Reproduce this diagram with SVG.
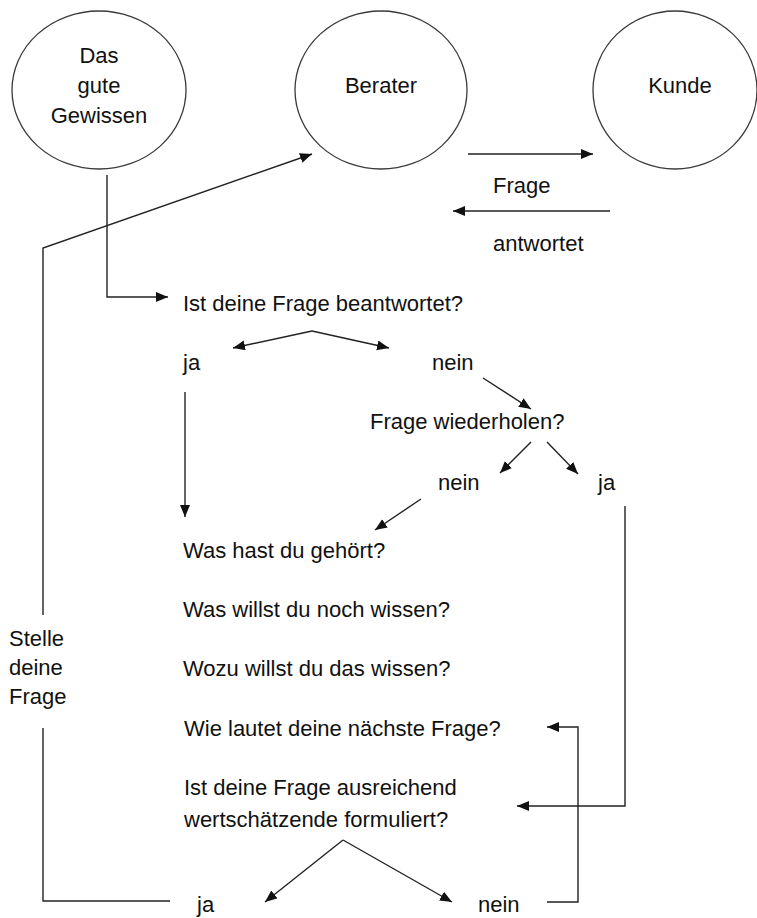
<svg xmlns="http://www.w3.org/2000/svg" width="757" height="918" viewBox="0 0 757 918">
<style>
  .bg{fill:#ffffff}
  .node ellipse{fill:#ffffff;stroke:#3a3a3a;stroke-width:1.3}
  text{font-family:"Liberation Sans",Arial,sans-serif;font-size:22px;fill:#111111}
  .c{text-anchor:middle}
  .conn path{fill:none;stroke:#222222;stroke-width:1.4}
</style>
<defs>
  <marker id="ah" markerUnits="userSpaceOnUse" markerWidth="14" markerHeight="12" refX="12" refY="5" orient="auto">
    <path d="M0,0 L12,5 L0,10 Z" fill="#111111"/>
  </marker>
</defs>
<rect class="bg" x="0" y="0" width="757" height="918"/>

<g id="gewissen" class="node">
  <ellipse cx="99" cy="90" rx="87" ry="79"/>
  <text class="c" x="99" y="63">Das</text>
  <text class="c" x="99" y="93">gute</text>
  <text class="c" x="99" y="123">Gewissen</text>
</g>
<g id="berater" class="node">
  <ellipse cx="381" cy="90" rx="86" ry="79"/>
  <text class="c" x="381" y="93">Berater</text>
</g>
<g id="kunde" class="node">
  <ellipse cx="675" cy="90" rx="82" ry="79"/>
  <text class="c" x="680" y="93">Kunde</text>
</g>

<g id="label-frage"><text x="493" y="193">Frage</text></g>
<g id="label-antwortet"><text x="493" y="251">antwortet</text></g>
<g id="q-beantwortet"><text x="183" y="311">Ist deine Frage beantwortet?</text></g>
<g id="ja1"><text x="183" y="370">ja</text></g>
<g id="nein1"><text x="432" y="370">nein</text></g>
<g id="q-wiederholen"><text x="370" y="429">Frage wiederholen?</text></g>
<g id="nein2"><text x="438" y="490">nein</text></g>
<g id="ja2"><text x="598" y="490">ja</text></g>
<g id="q-gehoert"><text x="183" y="558">Was hast du gehört?</text></g>
<g id="q-wissen"><text x="183" y="617">Was willst du noch wissen?</text></g>
<g id="q-wozu"><text x="183" y="676">Wozu willst du das wissen?</text></g>
<g id="q-naechste"><text x="184" y="736">Wie lautet deine nächste Frage?</text></g>
<g id="q-wertschaetzend">
  <text x="184" y="795">Ist deine Frage ausreichend</text>
  <text x="184" y="827">wertschätzende formuliert?</text>
</g>
<g id="ja3"><text x="197" y="912">ja</text></g>
<g id="nein3"><text x="478" y="912">nein</text></g>
<g id="stelle">
  <text x="9" y="646">Stelle</text>
  <text x="9" y="675">deine</text>
  <text x="9" y="704">Frage</text>
</g>

<g id="connectors" class="conn">
  <path d="M107,175 V297 H168" marker-end="url(#ah)"/>
  <path d="M170,901 H43 V728"/>
  <path d="M43,615 V248 L312,154" marker-end="url(#ah)"/>
  <path d="M468,154 H593" marker-end="url(#ah)"/>
  <path d="M610,211 H453" marker-end="url(#ah)"/>
  <path d="M312,331 L233,348" marker-end="url(#ah)"/>
  <path d="M312,331 L389,348" marker-end="url(#ah)"/>
  <path d="M185,392 V517" marker-end="url(#ah)"/>
  <path d="M483,378 L531,409" marker-end="url(#ah)"/>
  <path d="M531,442 L500,473" marker-end="url(#ah)"/>
  <path d="M547,442 L578,474" marker-end="url(#ah)"/>
  <path d="M421,499 L375,530" marker-end="url(#ah)"/>
  <path d="M625,506 V806 H517" marker-end="url(#ah)"/>
  <path d="M343,840 L265,902" marker-end="url(#ah)"/>
  <path d="M343,840 L452,902" marker-end="url(#ah)"/>
  <path d="M547,902 H578 V727 H547" marker-end="url(#ah)"/>
</g>
</svg>
